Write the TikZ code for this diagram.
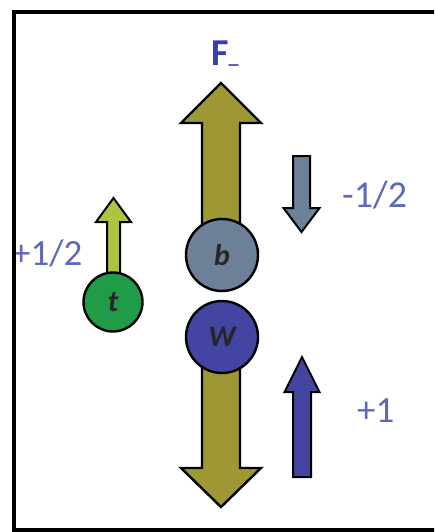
\documentclass[tikz,border=0pt]{standalone}
\usepackage{fontspec}
\setmainfont{Carlito}
\begin{document}
\begin{tikzpicture}[x=1pt,y=-1pt,
  outline/.style={draw=black,line width=2.4pt,line join=miter},
  thinout/.style={draw=black,line width=2pt,line join=miter},
  ball/.style={circle,draw=black,line width=2.4pt,inner sep=0pt,minimum size=#1,
     font=\fontsize{30pt}{30pt}\selectfont\bfseries\itshape,text=black!85},
  spinlabel/.style={text=labelblue,inner sep=0pt,anchor=base west},
]
\definecolor{olive}{RGB}{158,152,52}
\definecolor{slate}{RGB}{108,128,152}
\definecolor{wblue}{RGB}{68,68,162}
\definecolor{tgreen}{RGB}{32,156,72}
\definecolor{lime}{RGB}{172,196,66}
\definecolor{titleblue}{RGB}{55,65,172}
\definecolor{labelblue}{RGB}{95,105,185}

% vertical block arrow: style, x, tail y, tip y, shaft half width, head half width, head length
\newcommand\vblockarrow[7]{%
  \pgfmathsetmacro\hb{#4-sign(#4-#3)*#7}%
  \path[#1] (#2-#5,#3) -- (#2-#5,\hb) -- (#2-#6,\hb) -- (#2,#4)
    -- (#2+#6,\hb) -- (#2+#5,\hb) -- (#2+#5,#3) -- cycle;}

\useasboundingbox (0,0) rectangle (434,532);
\clip (0,0) rectangle (434,532);

% particles
\coordinate (bpos) at (222,255);
\coordinate (wpos) at (222,337);
\coordinate (tpos) at (113,302);

% large olive arrows behind b and W
\vblockarrow{fill=olive,outline}{221}{255}{83}{19}{40}{40}
\vblockarrow{fill=olive,outline}{221}{337}{507}{19}{40}{39}
% small green arrow of the top quark
\vblockarrow{fill=lime,thinout}{113.5}{300}{198}{6.5}{17.5}{24}

\node[ball=72pt,fill=slate] (b) at (bpos) {b};
\node[ball=72pt,fill=wblue] (W) at (wpos) {W};
\node[ball=59pt,fill=tgreen] (t) at (tpos) {t};

% spin arrows
\vblockarrow{fill=slate,thinout}{301.5}{156}{232}{8.5}{18}{24}
\vblockarrow{fill=wblue,thinout}{302}{477}{357}{9}{17.5}{35}

% labels
\node[anchor=base west,inner sep=0pt,text=titleblue,
  font=\fontsize{38pt}{38pt}\selectfont\bfseries] (F) at (211,66)
  {F\raisebox{2pt}{\fontsize{20pt}{20pt}\selectfont\_}};
\node[spinlabel,font=\fontsize{38pt}{38pt}\selectfont] (lb) at (342,207) {-1/2};
\node[spinlabel,font=\fontsize{37pt}{37pt}\selectfont] (lt) at (12,265) {+1/2};
\node[spinlabel,font=\fontsize{37pt}{37pt}\selectfont] (lw) at (357,422) {+1};

% frame
\draw[line width=3.6pt,line join=miter] (440,12) -- (14,12) -- (14,530) -- (440,530);
\end{tikzpicture}
\end{document}
